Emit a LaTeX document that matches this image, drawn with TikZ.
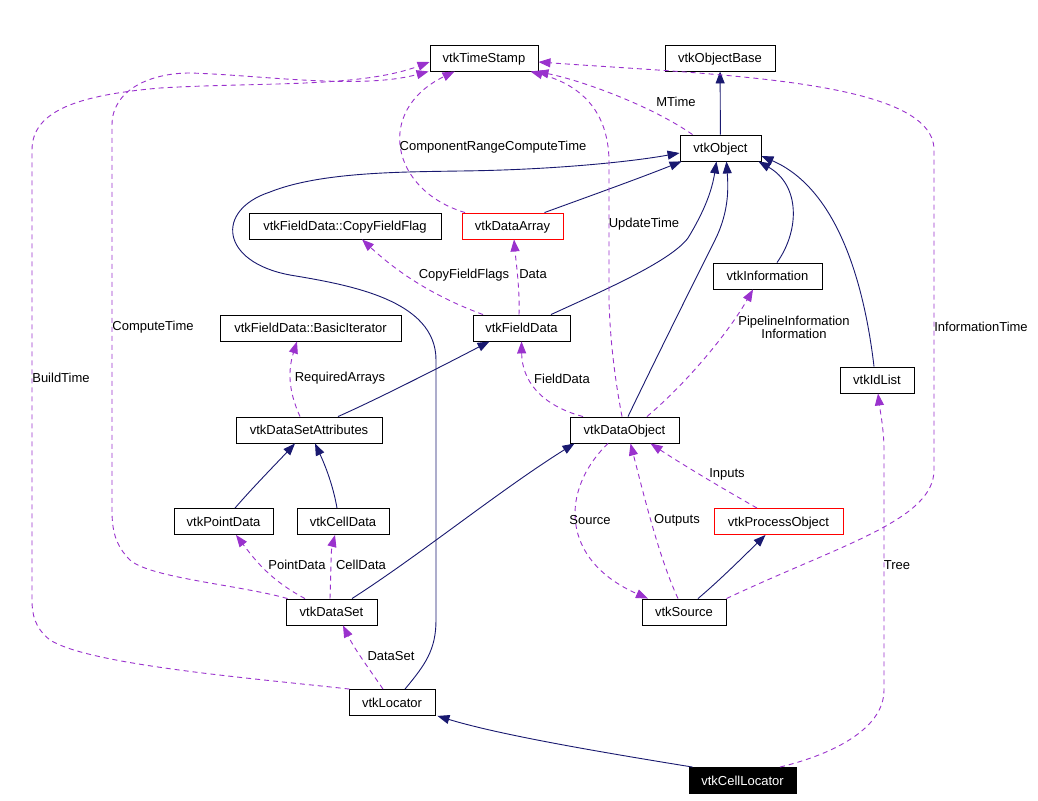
\documentclass[tikz,border=0pt]{standalone}
\usepackage{fontspec}
\setmainfont{Liberation Sans}
\usetikzlibrary{arrows.meta}
\definecolor{inhc}{HTML}{191970}
\definecolor{usec}{HTML}{9A32CD}
\begin{document}
\begin{tikzpicture}[x=1pt,y=-1pt,
 cls/.style={draw=black,line width=0.9pt,minimum height=26pt,inner sep=0pt,text height=11.5pt,text depth=2pt,font=\fontsize{13}{15}\selectfont},
 redcls/.style={cls,draw=red},
 inh/.style={draw=inhc,line width=0.9pt,-{Triangle[length=12pt,width=9pt]}},
 usee/.style={draw=usec,line width=0.9pt,dash pattern=on 5pt off 4pt,-{Triangle[length=12pt,width=9pt]}},
 lbl/.style={font=\fontsize{13}{13}\selectfont,inner sep=0pt,align=center}]
\fill[white] (0,0) rectangle (1038,800);
\useasboundingbox (0,0) rectangle (1038,800);
% classes
\node[cls,minimum width=108pt] (ts) at (484,58) {vtkTimeStamp};
\node[cls,minimum width=110pt] (ob) at (720,58) {vtkObjectBase};
\node[cls,minimum width=81pt] (obj) at (720.5,148) {vtkObject};
\node[cls,minimum width=192pt] (cff) at (345,226) {vtkFieldData::CopyFieldFlag};
\node[redcls,minimum width=101pt] (da) at (512.5,226) {vtkDataArray};
\node[cls,minimum width=109pt] (info) at (767.5,276) {vtkInformation};
\node[cls,minimum width=181pt] (bi) at (310.5,328) {vtkFieldData::BasicIterator};
\node[cls,minimum width=97pt] (fd) at (521.5,328) {vtkFieldData};
\node[cls,minimum width=74pt] (idl) at (877,380) {vtkIdList};
\node[cls,minimum width=146pt] (dsa) at (309,430) {vtkDataSetAttributes};
\node[cls,minimum width=109pt] (dobj) at (624.5,430) {vtkDataObject};
\node[cls,minimum width=99pt] (pd) at (223.5,521.5) {vtkPointData};
\node[cls,minimum width=92pt] (cd) at (343,521.5) {vtkCellData};
\node[redcls,minimum width=129pt] (po) at (778.5,521.5) {vtkProcessObject};
\node[cls,minimum width=91pt] (ds) at (331.5,612) {vtkDataSet};
\node[cls,minimum width=84pt] (src) at (684,612) {vtkSource};
\node[cls,minimum width=86pt] (loc) at (392,702.5) {vtkLocator};
\node[cls,fill=black,text=white,minimum width=107pt] (cl) at (742.5,780.5) {vtkCellLocator};
% inheritance
\draw[inh] (obj) -- (ob);
\draw[inh] ([xshift=32pt]da.north) .. controls (590,196) and (640,178) .. ([xshift=2pt]obj.south west);
\draw[inh] ([xshift=29.5pt]fd.north) .. controls (600,292) and (670,262) .. (688,238) .. controls (705,210) and (712,190) .. ([xshift=-4pt]obj.south);
\draw[inh] ([xshift=3.5pt]dobj.north) .. controls (660,350) and (700,270) .. (715,240) .. controls (730,210) and (728,185) .. ([xshift=6pt]obj.south);
\draw[inh] ([xshift=9.5pt]info.north) .. controls (800,230) and (800,185) .. ([xshift=-3pt]obj.south east);
\draw[inh] ([xshift=-3pt]idl.north) .. controls (865,290) and (840,190) .. ([yshift=-8pt]obj.east);
\draw[inh] ([xshift=13pt]loc.north) .. controls (425,665) and (436,650) .. (436,620) -- (436,360) .. controls (436,300) and (350,285) .. (290,275) .. controls (220,262) and (215,210) .. (270,192) .. controls (320,172) and (400,172) .. (460,171) .. controls (550,170) and (630,162) .. ([yshift=-5pt]obj.west);
\draw[inh] ([xshift=29pt]dsa.north) .. controls (380,398) and (450,362) .. ([xshift=-32pt]fd.south);
\draw[inh] ([xshift=11.5pt]pd.north) .. controls (255,485) and (275,465) .. ([xshift=-14pt]dsa.south);
\draw[inh] ([xshift=-6pt]cd.north) .. controls (333,485) and (325,465) .. ([xshift=6pt]dsa.south);
\draw[inh] ([xshift=20.5pt]ds.north) .. controls (420,555) and (500,490) .. ([xshift=-50pt]dobj.south);
\draw[inh] ([xshift=14pt]src.north) .. controls (720,580) and (745,555) .. ([xshift=-13pt]po.south);
\draw[inh] ([xshift=4pt]cl.north west) .. controls (600,752) and (500,735) .. ([xshift=2pt]loc.south east);
% usage
\draw[usee] ([xshift=-28pt]obj.north) .. controls (650,105) and (580,80) .. ([xshift=-2pt]ts.south east);
\draw[usee] ([xshift=-2.5pt]dobj.north) .. controls (615,380) and (610,340) .. (609,300) -- (609,160) .. controls (608,110) and (580,85) .. ([xshift=-8pt]ts.south east);
\draw[usee] (src.north east) .. controls (840,545) and (934,520) .. (934,470) -- (934,150) .. controls (934,80) and (720,75) .. ([yshift=-4pt]ts.east);
\draw[usee] ([xshift=-47.5pt]da.north) .. controls (390,190) and (375,110) .. ([xshift=25pt]ts.south west);
\draw[usee] ([xshift=2pt]ds.north west) .. controls (240,585) and (150,578) .. (130,560) .. controls (115,545) and (112,530) .. (112,510) -- (112,125) .. controls (112,90) and (150,73) .. (190,73) .. controls (260,75) and (360,90) .. ([xshift=-1pt]ts.south west);
\draw[usee] ([xshift=1pt]loc.north west) .. controls (250,678) and (90,665) .. (50,640) .. controls (35,628) and (32,615) .. (32,600) -- (32,150) .. controls (32,110) and (80,95) .. (160,88) .. controls (260,82) and (360,88) .. ([yshift=-4pt]ts.west);
\draw[usee] ([xshift=-38.5pt]fd.north) .. controls (430,295) and (395,270) .. ([xshift=17pt]cff.south);
\draw[usee] ([xshift=-2.5pt]fd.north) .. controls (520,290) and (516,262) .. ([xshift=1.5pt]da.south);
\draw[usee] ([xshift=-9pt]dsa.north) .. controls (288,390) and (288,370) .. ([xshift=-13.5pt]bi.south);
\draw[usee] ([xshift=-26.5pt]ds.north) .. controls (270,580) and (255,560) .. ([xshift=12.5pt]pd.south);
\draw[usee] ([xshift=-1.5pt]ds.north) .. controls (331,570) and (331,550) .. ([xshift=-8pt]cd.south);
\draw[usee] ([xshift=-9pt]loc.north) .. controls (370,670) and (355,650) .. ([xshift=11.5pt]ds.south);
\draw[usee] ([xshift=37.5pt]cl.north) .. controls (830,755) and (884,730) .. (884,690) -- (884,450) .. controls (884,430) and (880,410) .. ([xshift=1pt]idl.south);
\draw[usee] ([xshift=-41.5pt]dobj.north) .. controls (540,405) and (522,380) .. (fd.south);
\draw[usee] ([xshift=22.5pt]dobj.north) .. controls (690,380) and (730,330) .. ([xshift=-14.5pt]info.south);
\draw[usee] ([xshift=-21.5pt]po.north) .. controls (720,487) and (680,463) .. ([xshift=26pt]dobj.south);
\draw[usee] ([xshift=-6pt]src.north) .. controls (660,560) and (645,500) .. ([xshift=6pt]dobj.south);
\draw[usee] ([xshift=-16.5pt]dobj.south) .. controls (560,490) and (560,560) .. ([xshift=-36pt]src.north);
% labels
\node[lbl] (lMTime) at (676,102) {MTime};
\node[lbl] (lUpd) at (644,224) {UpdateTime};
\node[lbl] (lInfT) at (981,327) {InformationTime};
\node[lbl] (lCRC) at (493,147) {ComponentRangeComputeTime};
\node[lbl] (lComp) at (153,327) {ComputeTime};
\node[lbl] (lBuild) at (61,378) {BuildTime};
\node[lbl] (lCFF) at (464,275) {CopyFieldFlags};
\node[lbl] (lData) at (533,274) {Data};
\node[lbl] (lReq) at (340,378) {RequiredArrays};
\node[lbl] (lPD) at (297,565) {PointData};
\node[lbl] (lCD) at (361,565) {CellData};
\node[lbl] (lDS) at (391,656) {DataSet};
\node[lbl] (lTree) at (897,565) {Tree};
\node[lbl] (lFD) at (562,379) {FieldData};
\node[lbl] (lPI) at (794,327) {PipelineInformation\\Information};
\node[lbl] (lIn) at (727,474) {Inputs};
\node[lbl] (lOut) at (677,520) {Outputs};
\node[lbl] (lSrc) at (590,520) {Source};
\end{tikzpicture}
\end{document}
